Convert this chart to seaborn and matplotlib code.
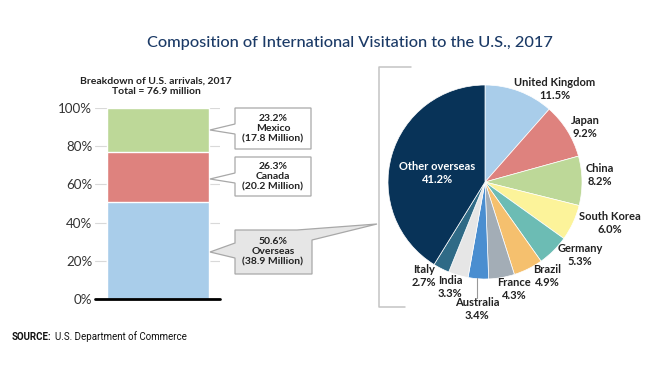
import matplotlib
matplotlib.use("Agg")
from matplotlib import pyplot as plt
from matplotlib import font_manager
from matplotlib.patches import Polygon
import pandas as pd
import seaborn as sns

# left stacked bar
bar_labels = ["Overseas", "Canada", "Mexico"]
bar_shares = [50.6, 26.3, 23.2]
bar_millions = [38.9, 20.2, 17.8]
bar_colors = ["#a9cdea", "#de827e", "#bdd898"]

# pie of overseas markets
pie_labels = ["United Kingdom", "Japan", "China", "South Korea", "Germany", "Brazil",
              "France", "Australia", "India", "Italy", "Other overseas"]
pie_shares = [11.5, 9.2, 8.2, 6.0, 5.3, 4.9, 4.3, 3.4, 3.3, 2.7, 41.2]
pie_colors = ["#a9cdea", "#de827e", "#bdd898", "#fcf39a", "#6cbcb4", "#f5c06e",
              "#a3adb6", "#4a8ed0", "#e6e6e6", "#2f6a86", "#083358"]

yticks = [0, 20, 40, 60, 80, 100]

sns.set_theme(style="white")
plt.rcParams["font.family"] = ["Lato", "DejaVu Sans"]

installed = {f.name for f in font_manager.fontManager.ttflist}
narrow = "Liberation Sans Narrow" if "Liberation Sans Narrow" in installed else "Roboto"
src_size = 7.4 if narrow == "Liberation Sans Narrow" else 7.0

W, H = 660, 375
fig = plt.figure(figsize=(W / 100, H / 100), dpi=100)


def px_axes(x0, y0, x1, y1):
    return fig.add_axes([x0 / W, 1 - y1 / H, (x1 - x0) / W, (y1 - y0) / H])


# stacked bar (drawn as overlapping cumulative bars)
ax = px_axes(95, 108, 220, 299)
df = pd.DataFrame({"region": bar_labels, "share": bar_shares})
df["cum"] = df["share"].cumsum()
for i in reversed(range(len(df))):
    sns.barplot(x=[""], y=[df["cum"][i]], color=bar_colors[i], width=0.816,
                saturation=1, ax=ax, zorder=2)
ax.set_ylim(0, 100)
ax.set_xlim(-0.5, 0.5)
ax.set_yticks(yticks)
ax.set_yticklabels([f"{t}%" for t in yticks], fontsize=9.6, color="#333333")
ax.set_xticks([])
ax.set_xlabel("")
ax.set_ylabel("")
ax.tick_params(axis="y", length=0, pad=2)
ax.yaxis.grid(True, color="#d9d9d9", lw=0.8, zorder=0)
ax.set_axisbelow(True)
for s in ax.spines.values():
    s.set_visible(False)
ax.axhline(0, color="black", lw=2, clip_on=False, zorder=5)

# pie
pax = px_axes(388, 85, 582, 279)
pax.pie(pie_shares, colors=pie_colors, startangle=90, counterclock=False,
        wedgeprops=dict(edgecolor="white", linewidth=0.5))
pax.set_xlim(-1, 1)
pax.set_ylim(-1, 1)

# overlay in pixel coordinates
ov = fig.add_axes([0, 0, 1, 1])
ov.set_xlim(0, W)
ov.set_ylim(H, 0)
ov.axis("off")
ov.patch.set_alpha(0)

ov.text(350, 43, "Composition of International Visitation to the U.S., 2017",
        ha="center", va="center", fontsize=11.8, color="#1b3a66", fontweight="medium")
ov.text(156, 86, "Breakdown of U.S. arrivals, 2017\nTotal = 76.9 million", ha="center",
        va="center", fontsize=7.5, fontweight="bold", color="#222222", linespacing=1.2)

# callout boxes
boxes = {
    "Mexico": [(235, 108), (311, 108), (311, 149), (235, 149), (235, 134), (210, 130), (235, 124)],
    "Canada": [(235, 157), (311, 157), (311, 196), (235, 196), (235, 183), (210, 179), (235, 173)],
    "Overseas": [(235, 230), (297, 230), (377, 224), (312, 240), (312, 274), (235, 274),
                 (235, 258), (210, 252), (235, 243)],
}
box_fill = {"Mexico": "white", "Canada": "white", "Overseas": "#e6e6e6"}
box_y = {"Mexico": 128.5, "Canada": 176.5, "Overseas": 252}
for lab, share, mil in zip(bar_labels, bar_shares, bar_millions):
    ov.add_patch(Polygon(boxes[lab], closed=True, facecolor=box_fill[lab],
                         edgecolor="#a8a8a8", lw=0.9, zorder=3))
    ov.text(273, box_y[lab], f"{share:.1f}%\n{lab}\n({mil:.1f} Million)", ha="center",
            va="center", fontsize=7.5, fontweight="bold", color="#222222",
            linespacing=1.2, zorder=4)

# bracket beside the pie
ov.plot([411, 379, 379, 405], [67, 67, 307, 307], color="#c4c4c4", lw=1.1)

# pie labels
pie_pos = {
    "United Kingdom": (555, 89), "Japan": (585, 127), "China": (600, 175),
    "South Korea": (610, 223), "Germany": (580, 255), "Brazil": (547, 276),
    "France": (514, 289), "Australia": (477, 309), "India": (450, 287),
    "Italy": (424, 276), "Other overseas": (437, 173),
}
for lab, share in zip(pie_labels, pie_shares):
    x, y = pie_pos[lab]
    col = "white" if lab == "Other overseas" else "#222222"
    ov.text(x, y, f"{lab}\n{share:.1f}%", ha="center", va="center", fontsize=8,
            fontweight="bold", color=col, linespacing=1.15)
ov.plot([477, 477], [278, 298], color="#999999", lw=0.8)

# source line: bold prefix, then the rest placed right after it
src = ov.text(12, 337, "SOURCE:", ha="left", va="center", fontsize=src_size,
              fontweight="bold", family=[narrow, "DejaVu Sans"], color="#111111")
fig.canvas.draw()
bb = src.get_window_extent()
x_after = ov.transData.inverted().transform((bb.x1 + 3, 0))[0]
ov.text(x_after, 337, "U.S. Department of Commerce", ha="left", va="center",
        fontsize=src_size, family=[narrow, "DejaVu Sans"], color="#111111")

fig.savefig("out.png", dpi=100)
